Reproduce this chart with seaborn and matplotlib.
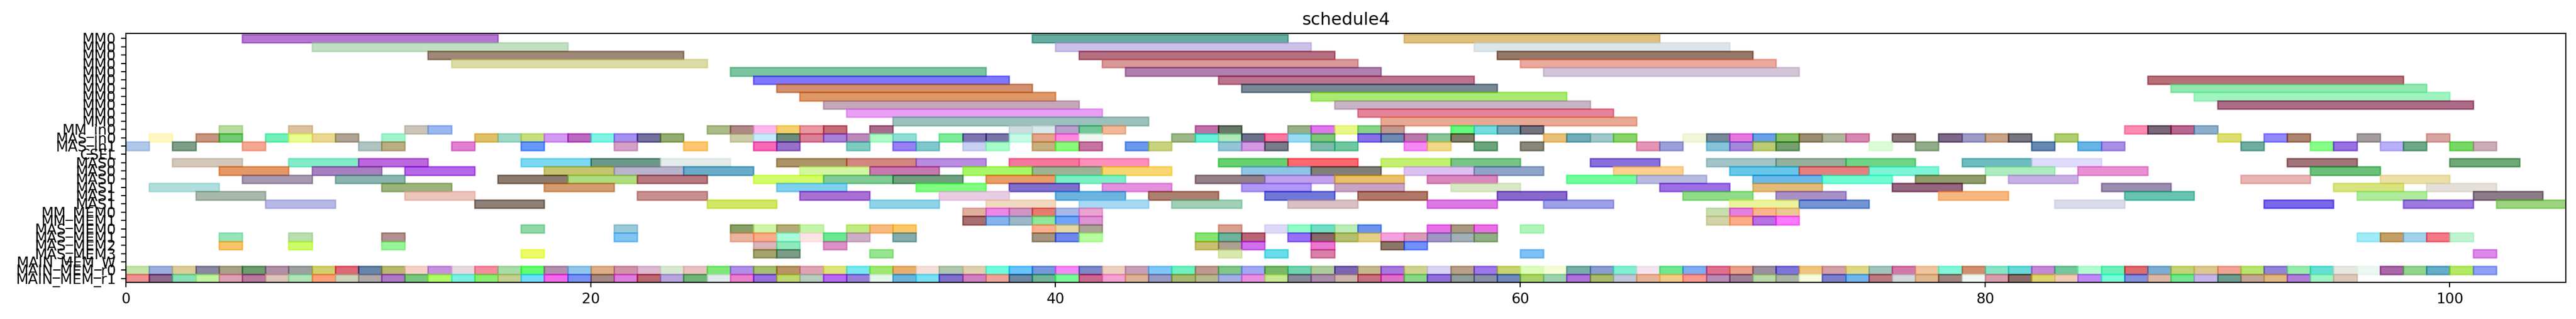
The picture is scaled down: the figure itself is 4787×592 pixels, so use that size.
import numpy as np
import matplotlib
matplotlib.use('Agg')
import matplotlib.pyplot as plt
import seaborn as sns

# Tên các hàng (từ trên xuống dưới)
row_labels = ['MM0', 'MM0', 'MM0', 'MM0', 'MM0', 'MM0', 'MM0', 'MM0', 'MM0', 'MM0', 'MM0',
              'MM_in0', 'MAS_in0', 'MAS_in1', 'CSEL',
              'MAS0', 'MAS0', 'MAS0', 'MAS1', 'MAS1', 'MAS1',
              'MM_MEM0', 'MM_MEM1', 'MAS_MEM0', 'MAS_MEM1', 'MAS_MEM2', 'MAS_MEM3',
              'MAIN_MEM_W', 'MAIN_MEM_r0', 'MAIN_MEM_r1']

# Độ dài công việc
mm0_len = 11
mas_len = 3
unit_len = 1

# Thời điểm bắt đầu
mm0_starts = [
    [5, 39, 55],
    [8, 40, 58],
    [13, 41, 59],
    [14, 42, 60],
    [26, 43, 61],
    [27, 47, 87],
    [28, 48, 88],
    [29, 51, 89],
    [30, 52, 90],
    [31, 53],
    [33, 54],
]
mm_in0_starts = [4, 7, 12, 13, 25, 26, 27, 28, 29, 30, 32, 38, 39, 40, 41, 42, 46, 47,
                 50, 51, 52, 53, 54, 57, 58, 59, 60, 86, 87, 88, 89]
mas_in0_starts = [1, 3, 4, 6, 7, 8, 9, 11, 15, 16, 17, 18, 19, 20, 21, 22, 23,
                  26, 27, 28, 29, 30, 31, 32, 33, 35, 36, 37, 38, 39, 40, 41,
                  45, 46, 47, 48, 49, 50, 51, 53, 54, 55, 56, 57, 61, 62, 63, 64,
                  67, 68, 69, 70, 71, 72, 73, 74, 76, 78, 79, 80, 81, 83, 90, 92, 93, 96, 99]
mas_in1_starts = [0, 2, 5, 10, 11, 14, 17, 21, 24, 27, 28, 31, 33, 34, 36, 37,
                  39, 40, 41, 43, 44, 47, 48, 49, 51, 52, 55, 56, 58, 60,
                  65, 66, 68, 69, 70, 71, 75, 77, 82, 84, 85, 91, 94, 95, 97, 98, 100, 101]
csel_starts = []
mas0_starts = [
    [2, 7, 10, 17, 20, 23, 28, 31, 34, 38, 41, 47, 50, 54, 57, 63, 68, 71, 74, 79, 82, 93, 100],
    [4, 8, 12, 18, 21, 24, 29, 32, 36, 39, 42, 48, 51, 55, 58, 64, 69, 72, 75, 80, 84, 94],
    [5, 9, 16, 19, 22, 27, 30, 33, 37, 40, 46, 49, 52, 56, 62, 65, 70, 73, 77, 81, 91, 97],
]
mas1_starts = [
    [1, 11, 18, 28, 34, 38, 42, 48, 52, 57, 66, 70, 76, 85, 95, 99],
    [3, 12, 22, 29, 35, 40, 44, 49, 53, 59, 67, 71, 78, 86, 96, 101],
    [6, 15, 25, 32, 37, 41, 45, 50, 56, 61, 69, 72, 83, 92, 98, 102],
]
mm_mem0_starts = [36, 37, 38, 39, 40, 41, 68, 69, 70, 71]
mm_mem1_starts = [36, 37, 38, 39, 40, 41, 68, 69, 70, 71]
mas_mem_starts = [
    [17, 21, 26, 27, 28, 29, 31, 32, 33, 39, 40, 41, 47, 49, 50, 51, 52, 53, 56, 57, 58, 60],
    [4, 7, 11, 21, 26, 27, 28, 29, 30, 31, 33, 39, 40, 41, 46, 47, 48, 50, 51, 52, 53, 54,
     55, 56, 57, 58, 96, 97, 98, 99, 100],
    [4, 7, 11, 27, 28, 30, 46, 47, 48, 51, 54, 55],
    [17, 27, 28, 32, 47, 49, 51, 60, 101],
]
main_w_starts = []
main_r0_starts = [0, 1, 2, 3, 4, 5, 6, 7, 8, 9, 10, 11, 12, 13, 14, 15, 16, 17, 18, 19,
                  20, 21, 22, 23, 24, 25, 26, 27, 28, 29, 30, 31, 32, 33, 34, 35, 36, 37, 38, 39,
                  40, 41, 42, 43, 44, 45, 46, 47, 48, 49, 50, 51, 52, 53, 54, 55, 56, 57, 58, 59,
                  60, 61, 62, 63, 64, 65, 66, 67, 68, 69, 70, 71, 72, 73, 74, 75, 76, 77, 78, 79,
                  80, 81, 82, 83, 84, 85, 86, 87, 88, 89, 90, 91, 92, 93, 94, 95, 96, 97, 98, 99,
                  100, 101]
main_r1_starts = [0, 1, 2, 3, 4, 5, 6, 7, 8, 9, 10, 11, 12, 13, 14, 15, 16, 17, 18, 19,
                  20, 21, 22, 23, 24, 25, 26, 27, 28, 29, 30, 31, 32, 33, 34, 35, 36, 37, 38, 39,
                  40, 41, 42, 43, 44, 45, 46, 47, 48, 49, 50, 51, 52, 53, 54, 55, 56, 57, 58, 59,
                  60, 61, 62, 63, 64, 65, 66, 67, 68, 69, 70, 71, 72, 73, 74, 75, 76, 77, 78, 79,
                  80, 81, 82, 83, 84, 85, 86, 87, 88, 89, 90, 91, 92, 93, 94, 95]

# Màu hiển thị (đã pha với nền trắng) của từng thanh
mm0_colors = [
    ['#b478d2', '#68aca0', '#e0c080'],
    ['#c2dfc2', '#ccc0e8', '#dce6ec'],
    ['#9e8878', '#b47080', '#967868'],
    ['#dcdca8', '#d89898', '#eca89c'],
    ['#7cc4a0', '#b080ac', '#d4c4d8'],
    ['#8078fc', '#bc7490', '#b87078'],
    ['#d09070', '#788894', '#90e8b0'],
    ['#e09868', '#a8ec70', '#a0f4c0'],
    ['#c4a8b8', '#c8b4c4', '#ac6c88'],
    ['#e8a0f4', '#e48498'],
    ['#9cc0bc', '#e8a894'],
]
mm_in0_colors = ['#b8dca0', '#dcc0a0', '#ccc4b8', '#9ab8f0', '#acbc88', '#b08888', '#fcb8ec',
                 '#f4d070', '#e898a0', '#c46c78', '#a86c8c', '#ccdce0', '#d8e8ec', '#b8a0cc',
                 '#74c898', '#f0b898', '#c070a8', '#687868', '#98b088', '#dc78ec', '#e8f888',
                 '#88d488', '#c09890', '#68f880', '#74dcdc', '#78a8bc', '#747480', '#fc8cb0',
                 '#786878', '#b86890', '#8cb0cc']
mas_in0_colors = ['#fff8c0', '#c89480', '#70cc70', '#70f0b8', '#e8fc90', '#ecd890', '#b0a494', '#a0f4cc',
                  '#e0c068', '#a0d8c8', '#c8e080', '#d498f4', '#bc68c0', '#80f4e4', '#a490f0', '#7470a0', '#94ac70',
                  '#cccca8', '#c8ecfc', '#6c8c80', '#d88098', '#a880d8', '#bc88bc', '#acfcc8', '#90e0d4',
                  '#7cec98', '#7c74b0', '#7874a8', '#c4fce8', '#e4a488', '#fc88e0', '#f0f8f0',
                  '#9cb888', '#68f0d8', '#b0e8b8', '#6c7088', '#fc74a0', '#98dcf4', '#7cc878',
                  '#8870e8', '#7088b4', '#b878a8', '#88c498', '#807c68',
                  '#e8c078', '#70acb8', '#a0c8c8', '#88d468',
                  '#f0f8d8', '#788898', '#e478e0', '#68a0e4', '#88c068', '#9c8c70', '#b0b49c', '#d888b0',
                  '#8c7878', '#7c6888', '#9c9cc8', '#c8a488', '#787480', '#b0cc70',
                  '#dce070', '#9088fc', '#ac8470', '#a49c9c', '#d8a4a0']
mas_in1_colors = ['#b0c8e8', '#7e9e8a', '#f4a894', '#b0c4c0', '#bcae84',
                  '#e080d0', '#6898fc', '#d4a0c8', '#fcc870',
                  '#f868b8', '#9870c8', '#7cccc0', '#9880f4', '#80c8cc', '#c8d0f0', '#a8fcc8',
                  '#c8b080', '#88fc78', '#c474a0', '#6c98ec', '#c8d480', '#94c4d8', '#d498e0',
                  '#787c88', '#7cbcac', '#70c8a0',
                  '#f488f4', '#f0d888', '#6ca47c', '#888878',
                  '#e494b4', '#9ca0d8', '#88c4d8', '#a488dc', '#bccc74', '#74a070', '#dcfcd8', '#90ac88',
                  '#6888b0', '#68b4e4', '#a890e4',
                  '#70aca0', '#88fc88', '#9870e0', '#b8b0f8', '#70a888', '#78d860', '#ccacb8']
csel_colors = []
mas0_colors = [
    ['#d4c8bc', '#84ecc8', '#bc68dc', '#7cd8f0', '#6c9888', '#e4ecec', '#ac9468', '#d08880',
     '#b88ce0', '#f4789c', '#fc90bc', '#68d070', '#fc6870', '#c4f070', '#78c488', '#8870dc',
     '#a4c4c8', '#94b09c', '#70d488', '#70bcc0', '#e0dcfc', '#a07478', '#70a878'],
    ['#e49868', '#a880c0', '#b468e8', '#c8c470', '#b8b4cc', '#68acc8', '#d4f8a0', '#c878b0',
     '#a8f868', '#9cb494', '#f8d870', '#90c4e4', '#808078', '#dcc0f0', '#90a4c8', '#fcd090',
     '#68c8e8', '#e48080', '#80f4d8', '#b0ecc0', '#e890d4', '#6cc07c'],
    ['#a898b0', '#8ab4b0', '#8c7c70', '#b0dc80', '#b87880', '#d4fc68', '#80cc94', '#70a080',
     '#e89c68', '#7cf0c4', '#948088', '#c0a0ec', '#e8c068', '#d888bc', '#70fc9c', '#b8bce0',
     '#6cb8e8', '#70fcd4', '#909c6c', '#c8b0e4', '#e8b4b4', '#ece0a8'],
]
mas1_colors = [
    ['#b0e0dc', '#9cb47c', '#d49c70', '#80d0f0', '#80fc80', '#8070cc', '#e490e0', '#b098f8',
     '#c8a4c4', '#d8e8c4', '#9c70e4', '#e4bc78', '#946080', '#9c8cb0', '#d8e480', '#e4e0d8'],
    ['#a8b8ac', '#ecc4bc', '#c89090', '#a870d4', '#e8cce4', '#6cb4e0', '#ac8070', '#7078d8',
     '#b07868', '#8868cc', '#90dc88', '#a890c8', '#f8b880', '#68c4b0', '#b0ec9c', '#8c7c88'],
    ['#b8b8e8', '#8c8078', '#d0e860', '#90d4e8', '#f0d8c0', '#a8d8f4', '#a0d0b8', '#d8c0c4',
     '#dc78e4', '#9ca0e8', '#ecf49c', '#7494d4', '#d8dce8', '#7868ec', '#9c78e0', '#9cd480'],
]
mm_mem0_colors = ['#e0b0a0', '#ec88e4', '#d094c4', '#e47c70', '#a8b8e8', '#eca4d0',
                  '#c8e0b0', '#e480e0', '#fcb490', '#ecc894']
mm_mem1_colors = ['#a87070', '#84b4ec', '#9cb8c8', '#90e898', '#70a4f8', '#dc94d4',
                  '#d4d4a8', '#fcac88', '#b870e4', '#fc78fc']
mas_mem_colors = [
    ['#90d8a8', '#9ccad8', '#88a060', '#d0f4a8', '#b4ac78', '#c4f4a8', '#c0ec80', '#f8bc80',
     '#fcc868', '#fcb090', '#e4d8a0', '#aca498', '#d8a090', '#dcd8f8', '#90fcc8', '#70dcc4',
     '#bcecb8', '#6c94ec', '#e870e8', '#a89880', '#e870e4', '#b0f4b8'],
    ['#98e4bc', '#b8e0b0', '#b49090', '#80c4f4', '#ecb4a0', '#fcac88', '#a8fcdc', '#fce4e4',
     '#6ce890', '#ccb0c8', '#84acac', '#a49480', '#7088ec', '#b8fca0', '#88e470', '#6cb4a0',
     '#b86478', '#9870f8', '#886868', '#b4c070', '#e4d088', '#f8a0e0', '#e098bc', '#a098c4',
     '#a4b0b8', '#90b084', '#a0ecf8', '#c4a068', '#a0d4ec', '#f47888', '#c0f4d0'],
    ['#f8c468', '#ccfc68', '#98f498', '#dcb4bc', '#90e8bc', '#dc90c8', '#c8c070', '#aca090',
     '#d070ec', '#ec78d0', '#8c7868', '#7090fc'],
    ['#ecfc60', '#a4a470', '#7c9c88', '#98e490', '#d8e8b0', '#68dce8', '#d880a8', '#80c0f4',
     '#dc88ec'],
]
main_w_colors = []
main_r0_colors = ['#c4e4a8', '#9cb0dc', '#dccc98', '#8a88a0', '#aaa088', '#6c9c70', '#b090a8', '#9ca0a0',
                  '#d0d070', '#e06878', '#6884a8', '#b8b870', '#f8d0c8', '#c890e0', '#e8d8e0', '#f48ca0',
                  '#a8dca8', '#60fc70', '#b490b0', '#90c8ec', '#dcb088', '#d094a8', '#dcb8d4', '#d8e8d0',
                  '#ecc0c0', '#80e878', '#b090e8', '#a4c070', '#b89468', '#e0a4b4', '#e0e478', '#78e8f0',
                  '#a0e870', '#e8b070', '#f4e0d8', '#b0c8b0', '#e0d0b0', '#70fcdc', '#68c4fc', '#7898dc',
                  '#f488f4', '#7c88c8', '#ecd0c0', '#c8a0b8', '#80c8f8', '#70f0c0', '#c09890', '#80c888',
                  '#a0a8f4', '#78b868', '#70d4b0', '#b0cc9c', '#7c64b4', '#c4b890', '#a878dc', '#d0d490',
                  '#d8d4f4', '#b8a088', '#9c78e8', '#c8d470', '#dcfcbc', '#f4fcd8', '#78b0a8', '#8c9cd0',
                  '#80f0d0', '#f4e4f0', '#70e890', '#80acf0', '#e07090', '#e8a088', '#9c90a0', '#7c74d8',
                  '#f0c480', '#d4a0a8', '#e0d888', '#a0c4bc', '#d478a8', '#f0c4a0', '#80f8d8', '#d09070',
                  '#88e4c8', '#68d8d8', '#c488d8', '#74c89c', '#b4fcd0', '#6cf0b8', '#dc6c70', '#7cacd4',
                  '#c4d478', '#dcc890', '#f0a494', '#b8e470', '#9484d8', '#98ecac', '#68e0d4', '#e4e8e0',
                  '#ecf8f0', '#a868a8', '#94d490', '#68acc8', '#b4e860', '#90a0f4']
main_r1_colors = ['#f09090', '#906890', '#88e0b4', '#c0f4a0', '#e0a0b4', '#b878a0', '#dcc4b8', '#b0e4b8',
                  '#fca078', '#ccd4b8', '#b0a8a8', '#ac78c8', '#78c880', '#b0fc68', '#78f0e4', '#88f070',
                  '#c4d090', '#70dcfc', '#f468ec', '#7890f4', '#a48884', '#e07ce0', '#bc6870', '#b8a4e0',
                  '#70b478', '#e0ecec', '#ec80cc', '#9870e0', '#c0d870', '#b8ccc0', '#b868f4', '#9880d8',
                  '#e4f8ec', '#68b4dc', '#78e0f4', '#8070cc', '#d080c0', '#f0a498', '#6c88a4', '#70b498',
                  '#78fc98', '#cc6890', '#f4a0d0', '#dcb494', '#9898c4', '#a8b870', '#b8b890', '#a4b0e4',
                  '#e890e0', '#c8e890', '#888898', '#ac8cac', '#ccb4ac', '#c87080', '#e070c8', '#88d888',
                  '#9070d8', '#909c98', '#8890a8', '#7088bc', '#a8d468', '#9cd4b0', '#b070d8', '#a8bc68',
                  '#c0c8d8', '#e8b494', '#f4cc88', '#fc9890', '#b88cb4', '#a08098', '#b8d8a4', '#acb4a4',
                  '#f4fcdc', '#7c80cc', '#70b4f0', '#bc7880', '#d4d8dc', '#e0b890', '#a08480', '#eef8f4',
                  '#d89cac', '#8c6c68', '#e0d470', '#f0ccb4', '#c088f8', '#78fcd8', '#8090dc', '#dcb8a4',
                  '#70e890', '#c8b4ec', '#6c9c90', '#c4a494', '#e0b880', '#b07cd8', '#a0f4c4', '#dcc8bc']

# Ghép hàng: (chỉ số hàng, danh sách bắt đầu, độ dài, màu)
rows = []
for i in range(11):
    rows.append((i, mm0_starts[i], mm0_len, mm0_colors[i]))
rows.append((11, mm_in0_starts, unit_len, mm_in0_colors))
rows.append((12, mas_in0_starts, unit_len, mas_in0_colors))
rows.append((13, mas_in1_starts, unit_len, mas_in1_colors))
rows.append((14, csel_starts, unit_len, csel_colors))
for k in range(3):
    rows.append((15 + k, mas0_starts[k], mas_len, mas0_colors[k]))
for k in range(3):
    rows.append((18 + k, mas1_starts[k], mas_len, mas1_colors[k]))
rows.append((21, mm_mem0_starts, unit_len, mm_mem0_colors))
rows.append((22, mm_mem1_starts, unit_len, mm_mem1_colors))
for k in range(4):
    rows.append((23 + k, mas_mem_starts[k], unit_len, mas_mem_colors[k]))
rows.append((27, main_w_starts, unit_len, main_w_colors))
rows.append((28, main_r0_starts, unit_len, main_r0_colors))
rows.append((29, main_r1_starts, unit_len, main_r1_colors))

ALPHA = 0.6


def base_color(hex_color):
    # đổi màu hiển thị về màu gốc trước khi pha alpha với nền trắng
    rgb = np.array(matplotlib.colors.to_rgb(hex_color))
    return tuple(np.clip((rgb - (1 - ALPHA)) / ALPHA, 0, 1))


sns.set_style('ticks', {'axes.edgecolor': 'black', 'xtick.color': 'black',
                        'ytick.color': 'black', 'text.color': 'black',
                        'axes.labelcolor': 'black'})
plt.rcParams['font.family'] = ['DejaVu Sans']

DPI = 192
fig = plt.figure(figsize=(4787 / DPI, 592 / DPI), dpi=DPI)
ax = fig.add_axes([0.0489, 0.1144, 0.9472, 0.7804])

for row, starts, length, colors in rows:
    if len(starts) == 0:
        continue
    cols = [base_color(c) for c in colors]
    ax.barh([row] * len(starts), [length] * len(starts), left=starts, height=1.0,
            color=cols, edgecolor=cols, alpha=ALPHA, linewidth=1.0)

ax.set_yticks(range(len(row_labels)))
ax.set_yticklabels(row_labels, fontsize=10)
ax.tick_params(axis='both', length=3.5, width=0.8, labelsize=10, direction='out')
for s in ax.spines.values():
    s.set_linewidth(0.8)
ax.set_xlim(0, 105)
ax.set_ylim(29.5, -0.6)
ax.set_title('schedule4', fontsize=12)

fig.savefig('out.png', dpi=DPI)
